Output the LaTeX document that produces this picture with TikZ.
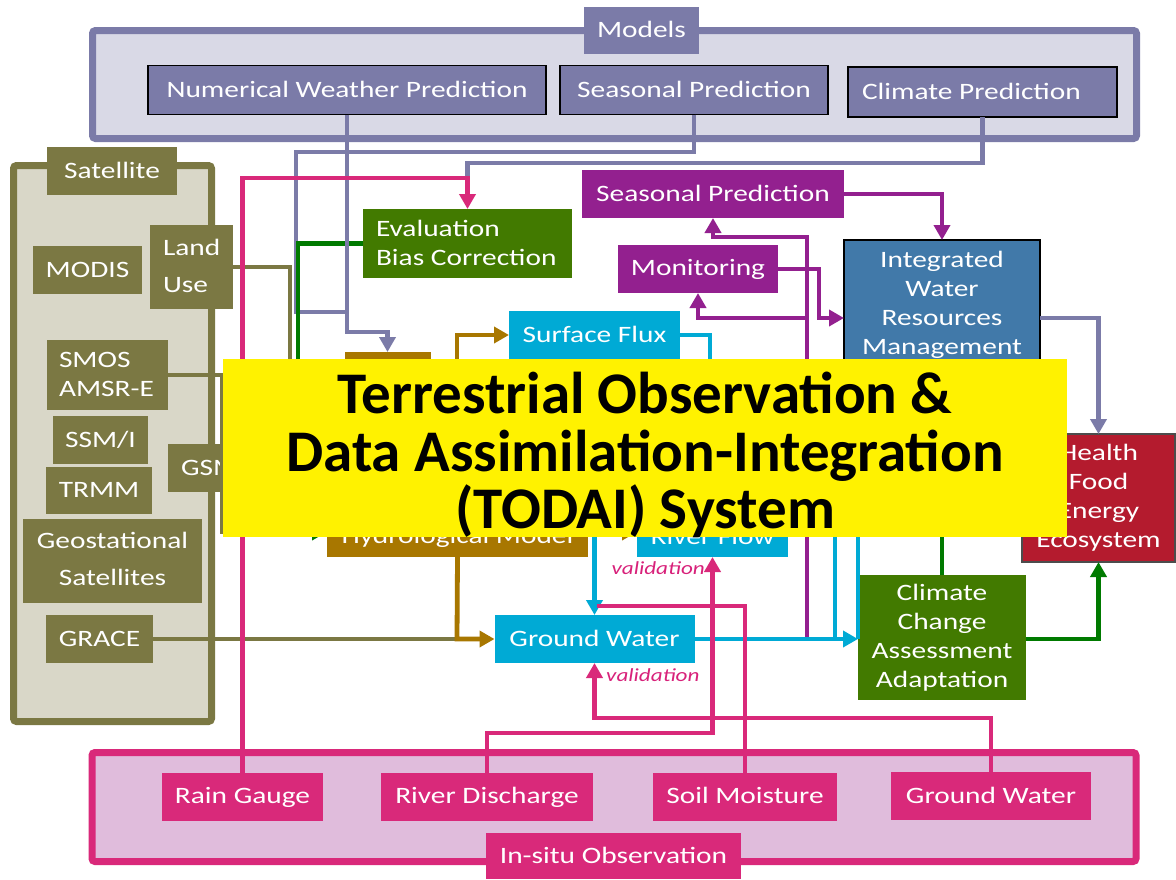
\documentclass[tikz,border=0pt]{standalone}
\usepackage{fontspec}
\setmainfont{Carlito}[FakeStretch=1.25]
\newfontfamily\titlefont{Carlito}
\usetikzlibrary{arrows.meta}
\definecolor{mdl}{HTML}{7B7BA8}
\definecolor{mdlfill}{HTML}{D9D9E6}
\definecolor{sat}{HTML}{7B7843}
\definecolor{satfill}{HTML}{D9D7C8}
\definecolor{pnk}{HTML}{D9297A}
\definecolor{pnkfill}{HTML}{E0BCDC}
\definecolor{cyn}{HTML}{00AAD5}
\definecolor{brn}{HTML}{A87700}
\definecolor{grnbox}{HTML}{427A00}
\definecolor{grnline}{HTML}{007A00}
\definecolor{prp}{HTML}{93208F}
\definecolor{iwr}{HTML}{4179A9}
\definecolor{hlt}{HTML}{B41B2E}
\definecolor{val}{HTML}{D8217A}
\newcommand{\bxstrut}{\rule[-4pt]{0pt}{22pt}}
\newcommand{\ttlstrut}{\rule[-12pt]{0pt}{42pt}}
\begin{document}
\begin{tikzpicture}[x=1pt,y=-1pt,
 box/.style={inner sep=0pt, outer sep=0pt, text=white, font=\fontsize{23.5}{29}\selectfont, align=center,
   execute at begin node=\bxstrut, execute at end node=\bxstrut},
 lbox/.style={box, align=flush left, inner ysep=0pt},
 conn/.style={line width=4.8pt},
 arr/.style={-{Triangle[length=15pt,width=16pt]}},
 container/.style={line width=7pt, rounded corners=3pt, inner sep=0pt},
 valtext/.style={font=\itshape\fontsize{18.5}{18.5}\selectfont, text=val, inner sep=0pt},
]
\useasboundingbox (0,0) rectangle (1176,879);
\fill[white] (0,0) rectangle (1176,879);

% containers
\node[container, draw=mdl, fill=mdlfill, minimum width=1044, minimum height=108] (models) at (614.5,84.5) {};
\node[box, fill=mdl, minimum width=115, minimum height=47] (modelslbl) at (641.5,30.5) {Models};
\node[container, draw=sat, fill=satfill, minimum width=198, minimum height=556] (satbox) at (112.5,443.5) {};
\node[box, fill=sat, minimum width=130, minimum height=48] (satlbl) at (112,171) {Satellite};
\node[container, draw=pnk, fill=pnkfill, minimum width=1044, minimum height=109] (insitu) at (614,807) {};
\node[box, fill=pnk, minimum width=255, minimum height=46] (insitulbl) at (613.5,856) {In-situ Observation};

% models
\node[box, fill=mdl, draw=black, line width=1.2pt, minimum width=398, minimum height=49] (nwp) at (347,90) {Numerical Weather Prediction};
\node[box, fill=mdl, draw=black, line width=1.2pt, minimum width=268, minimum height=49] (seasm) at (694,90) {Seasonal Prediction};
\node[lbox, fill=mdl, draw=black, line width=1.2pt, text width=241, inner xsep=14, minimum height=50] (climm) at (982.5,92) {Climate Prediction};

% satellite
\node[box, fill=sat, minimum width=109, minimum height=48] (modis) at (87.5,270) {MODIS};
\node[lbox, fill=sat, text width=57, inner xsep=13, minimum height=84, font=\fontsize{23.5}{37}\selectfont] (landuse) at (191.5,267) {Land\\Use};
\node[lbox, fill=sat, text width=97, inner xsep=12, minimum height=70] (smos) at (107.5,375) {SMOS\\AMSR-E};
\node[box, fill=sat, minimum width=95, minimum height=48] (ssmi) at (100.5,440) {SSM/I};
\node[lbox, fill=sat, text width=76, inner xsep=13, minimum height=48] (gsm) at (219,468) {GSM};
\node[box, fill=sat, minimum width=106, minimum height=47] (trmm) at (99,490.5) {TRMM};
\node[box, fill=sat, minimum width=179, minimum height=84, font=\fontsize{23.5}{37}\selectfont] (geo) at (112.5,561) {Geostational\\Satellites};
\node[box, fill=sat, minimum width=107, minimum height=48] (grace) at (99.5,639) {GRACE};

% middle
\node[lbox, fill=grnbox, text width=183, inner xsep=13, minimum height=69] (evalb) at (467.5,243.5) {Evaluation\\Bias Correction};
\node[box, fill=brn, minimum width=86, minimum height=48] (lsm) at (387.5,376) {};
\node[box, fill=brn, minimum width=261, minimum height=40] (hydro) at (457.5,537) {Hydrological Model};
\node[box, fill=cyn, minimum width=171, minimum height=48] (surf) at (594.5,335) {Surface Flux};
\node[box, fill=cyn, minimum width=151, minimum height=40] (rflow) at (712.5,537) {River Flow};
\node[box, fill=cyn, minimum width=200, minimum height=48] (gwm) at (594.5,639) {Ground Water};
\node[box, fill=prp, minimum width=262, minimum height=48] (seasp) at (713,194) {Seasonal Prediction};
\node[box, fill=prp, minimum width=160, minimum height=48] (monit) at (698,269) {Monitoring};
\node[box, fill=iwr, draw=black, line width=1.2pt, minimum width=196, minimum height=130] (iwrm) at (942,305) {Integrated\\Water\\Resources\\Management};
\node[box, fill=hlt, draw=black!70, line width=1.5pt, minimum width=153, minimum height=128] (health) at (1098.5,498) {Health\\Food\\Energy\\Ecosystem};
\node[box, fill=grnbox, minimum width=168, minimum height=125] (climc) at (942,637.5) {Climate\\Change\\Assessment\\Adaptation};

% in-situ
\node[box, fill=pnk, minimum width=161, minimum height=48] (raing) at (242.5,796.5) {Rain Gauge};
\node[box, fill=pnk, minimum width=212, minimum height=48] (rdis) at (487,796.5) {River Discharge};
\node[box, fill=pnk, minimum width=184, minimum height=48] (soilm) at (745,796.5) {Soil Moisture};
\node[box, fill=pnk, minimum width=200, minimum height=48] (gwi) at (991,796) {Ground Water};

\coordinate (pj) at (807,639);
\coordinate (pm) at (807,318);
\coordinate (soilend) at (597,606);

% model connectors
\draw[conn, mdl] (seasm.south) -- (694,152) -- (296,152) -- (296,312) -- (347,312);
\draw[conn, mdl] (climm.south) -- (982.5,163) -- (467.5,163) -- (467.5,180);
\draw[conn, grnline, arr] (evalb.west) -- (298,243.5) -- (298,532) -- (hydro.west |- 0,532);
\draw[conn, mdl, arr] (nwp.south) -- (347,332) -- (387.5,332) -- (lsm.north);

% satellite connectors
\draw[conn, sat] (landuse.east) -- (290,267) -- (290,525) -- (hydro.west |- 0,525);
\draw[conn, sat] (smos.east) -- (222,375) -- (222,532) -- (298,532);
\draw[conn, sat] (grace.east) -- (457,639);

% pink rain gauge
\draw[conn, pnk, arr] (raing.north) -- (242.5,178) -- (467.5,178) -- (evalb.north);

% brown
\draw[conn, brn, arr] (lsm.east) -- (457,376) -- (457,335) -- (surf.west);
\draw[conn, brn, arr] (hydro.south) -- (457,639) -- (gwm.west);
\draw[conn, brn, arr] (hydro.east |- 0,532) -- (rflow.west |- 0,532);

% purple
\draw[conn, prp, arr] (seasp.east) -- (942,194) -- (iwrm.north);
\draw[conn, prp, arr] (pj) -- (807,237) -- (713,237) -- (seasp.south);
\draw[conn, prp, arr] (pm) -- (698,318) -- (monit.south);
\draw[conn, prp, arr] (monit.east) -- (819,269) -- (819,318) -- (iwrm.west |- 0,318);

% cyan
\draw[conn, cyn, arr] (surf.south) -- (gwm.north);
\draw[conn, cyn] (surf.east) -- (710,335) -- (710,420) -- (858,420) -- (858,639);
\draw[conn, cyn] (rflow.east |- 0,525) -- (835,525) -- (835,639);
\draw[conn, cyn, arr] (gwm.east) -- (climc.west |- gwm.east);

% outputs
\draw[conn, mdl, arr] (iwrm.east |- 0,318) -- (1098.5,318) -- (health.north);
\draw[conn, grnline, arr] (climc.east |- 0,639) -- (1098.5,639) -- (health.south);
\draw[conn, grnline] (iwrm.south) -- (climc.north);

% pink in-situ
\draw[conn, pnk, arr] (rdis.north) -- (487,733) -- (712.5,733) -- (rflow.south);
\draw[conn, pnk] (soilm.north) -- (745,606) -- (soilend);
\draw[conn, pnk, arr] (gwi.north) -- (991,718) -- (594.5,718) -- (gwm.south);

\node[valtext, anchor=base east] (val1) at (705,574) {validation};
\node[valtext, anchor=base west] (val2) at (606,681) {validation};

% title
\node[fill=yellow, minimum width=844, minimum height=178, inner sep=0pt] (title) at (645,448) {};
\node[font=\titlefont\bfseries\fontsize{59}{57.5}\selectfont, align=center, inner sep=0pt] (titletext) at (645,456.5) {\ttlstrut Terrestrial Observation \&\\Data Assimilation-Integration\\(TODAI) System\ttlstrut};
\end{tikzpicture}
\end{document}
